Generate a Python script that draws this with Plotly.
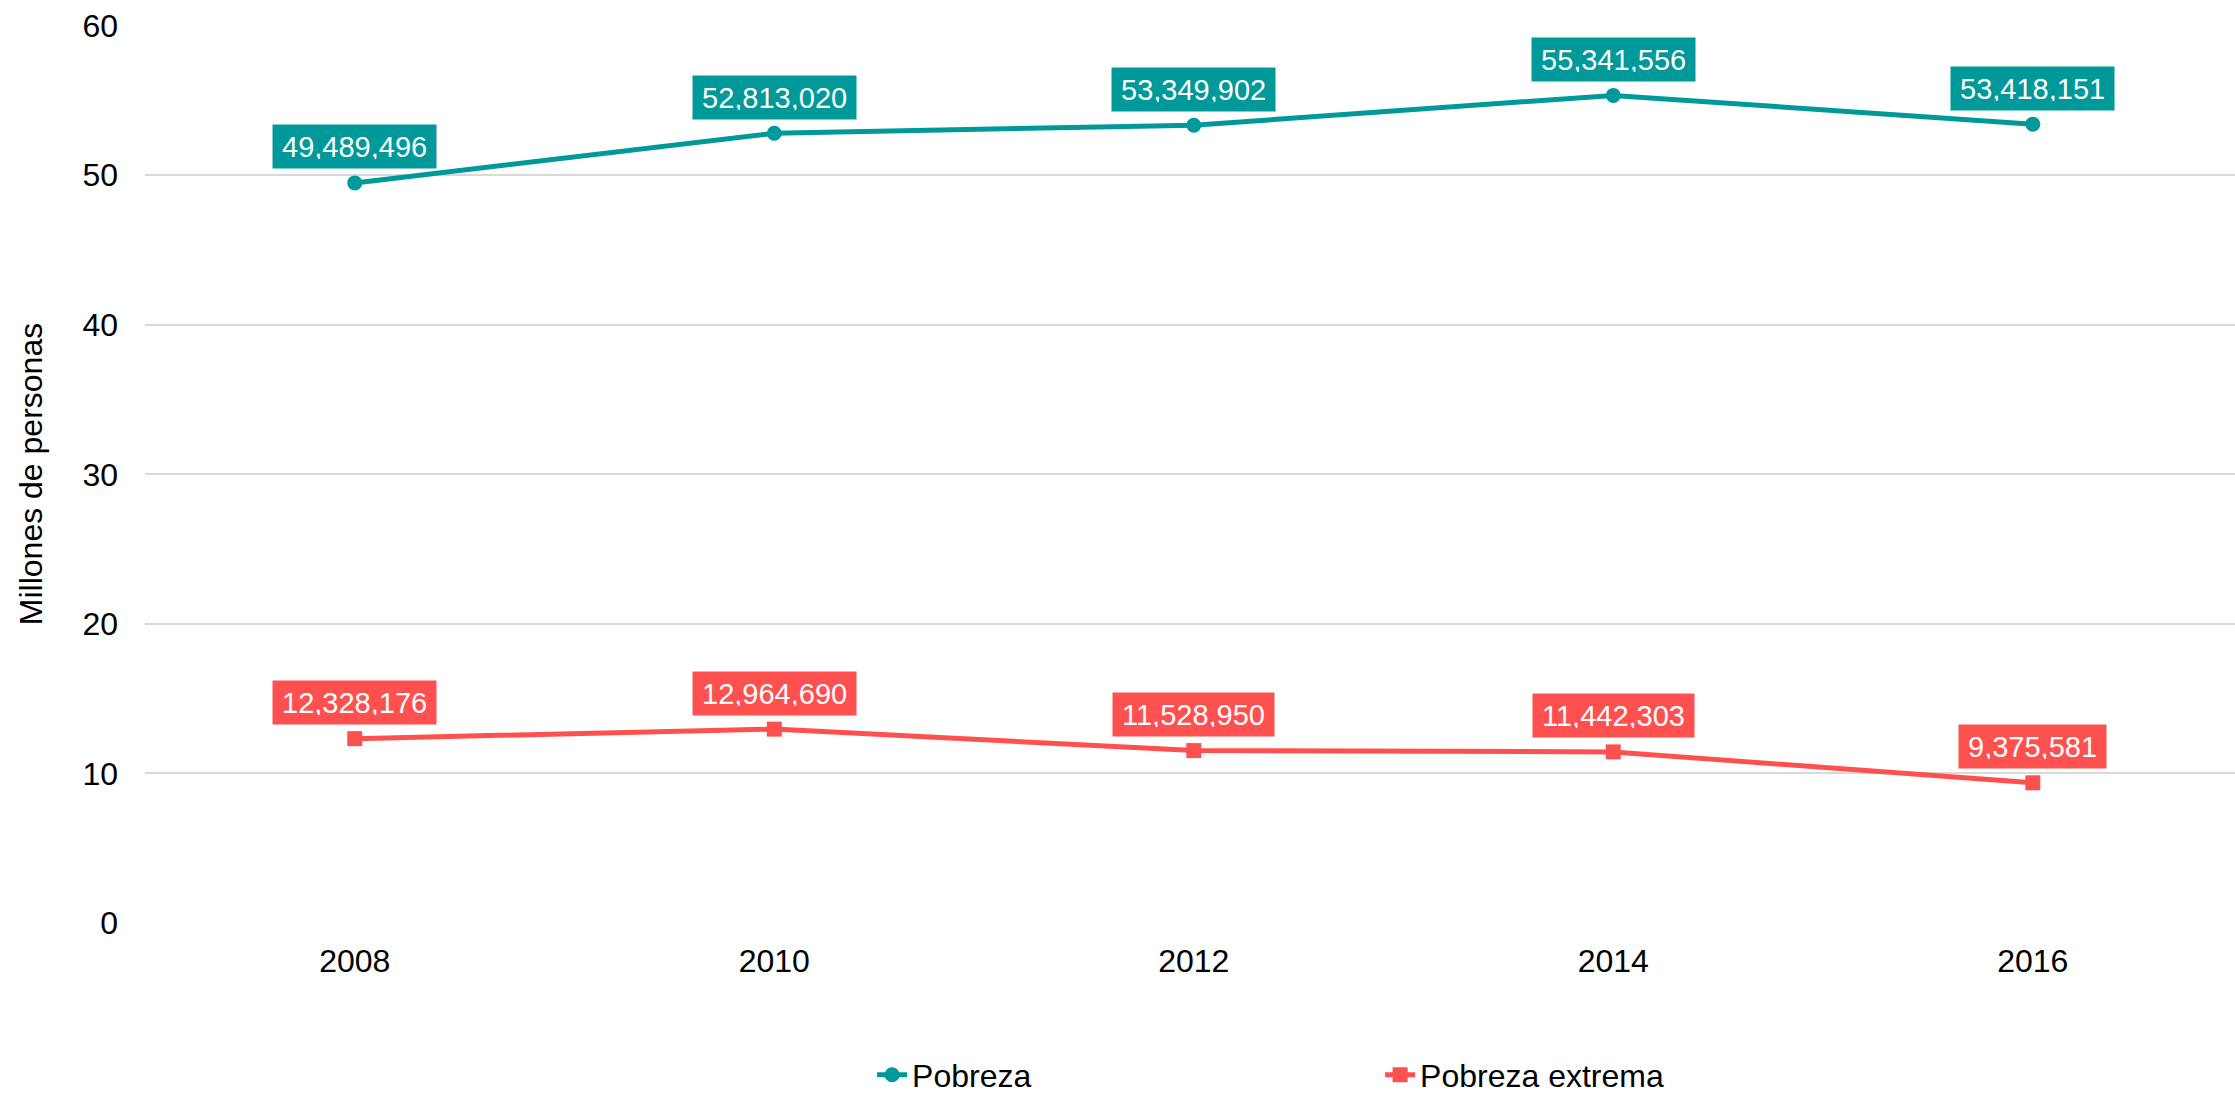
import plotly.graph_objects as go

years = ["2008", "2010", "2012", "2014", "2016"]
pobreza = [49489496, 52813020, 53349902, 55341556, 53418151]
pobreza_extrema = [12328176, 12964690, 11528950, 11442303, 9375581]
y_ticks = [0, 10, 20, 30, 40, 50, 60]

TEAL = "#009999"
RED = "#FF5050"
FONT = "Liberation Sans, Arial, sans-serif"

pob_m = [v / 1e6 for v in pobreza]
ext_m = [v / 1e6 for v in pobreza_extrema]

fig = go.Figure()
fig.add_trace(go.Scatter(x=years, y=pob_m, name="Pobreza", mode="lines+markers",
                         line=dict(color=TEAL, width=5),
                         marker=dict(symbol="circle", size=15, color=TEAL)))
fig.add_trace(go.Scatter(x=years, y=ext_m, name="Pobreza extrema", mode="lines+markers",
                         line=dict(color=RED, width=5),
                         marker=dict(symbol="square", size=15, color=RED)))

annotations = []
for ys, vals, col in [(pob_m, pobreza, TEAL), (ext_m, pobreza_extrema, RED)]:
    for i, (y, v) in enumerate(zip(ys, vals)):
        annotations.append(dict(
            xref="x", yref="y", x=i, y=y,
            text=f"{v:,}", showarrow=False,
            xanchor="center", yanchor="middle", yshift=36,
            height=25, valign="middle",
            bgcolor=col, borderpad=9,
            font=dict(family=FONT, size=29, color="white")))

fig.update_layout(
    width=2235, height=1095,
    margin=dict(l=145, r=0, t=25, b=172, autoexpand=False),
    paper_bgcolor="white", plot_bgcolor="white",
    font=dict(family=FONT, size=32, color="black"),
    showlegend=True,
    annotations=annotations,
    legend=dict(orientation="h", xref="container", yref="container",
                x=0.3902, xanchor="left", y=0.0183, yanchor="middle",
                entrywidth=463, entrywidthmode="pixels",
                font=dict(family=FONT, size=32, color="black")),
    xaxis=dict(type="category", range=[-0.5, 4.482], showgrid=False, zeroline=False,
               showline=False, ticks="", ticklabelstandoff=16, automargin=False,
               tickfont=dict(family=FONT, size=32, color="black")),
    yaxis=dict(range=[0, 60.05], tickvals=y_ticks, showgrid=True, gridcolor="#D9D9D9",
               gridwidth=2, zeroline=False, showline=False, ticks="",
               ticklabelstandoff=26, automargin=False,
               tickfont=dict(family=FONT, size=32, color="black"),
               title=dict(text="Millones de personas", standoff=30,
                          font=dict(family=FONT, size=32, color="black"))),
)

fig.write_html("out.html", config={"displayModeBar": False},
               post_script="document.body.style.margin='0';document.body.style.overflow='hidden';")
